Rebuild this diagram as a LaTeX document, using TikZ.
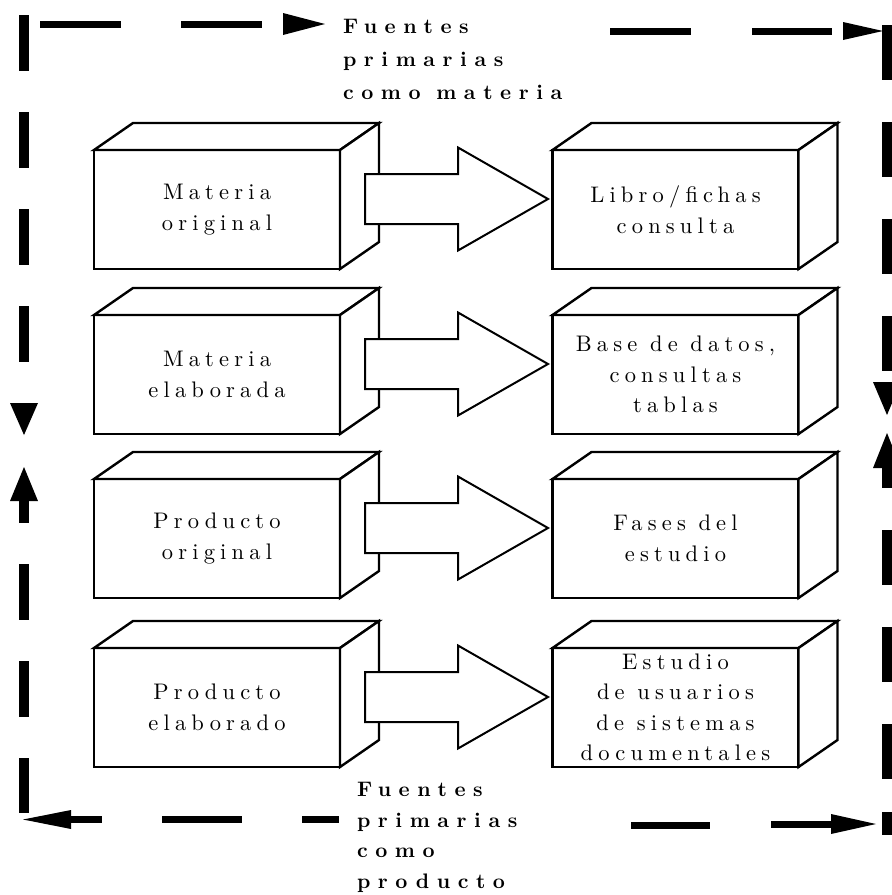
\documentclass[tikz,border=0pt]{standalone}
\usepackage{fontspec}
\newfontfamily\boxfont{lmroman10-regular.otf}[LetterSpace=23]
\newfontfamily\lblfont{lmroman10-bold.otf}[LetterSpace=36]
\usetikzlibrary{calc}
\newcommand\cubebox[3]{%
  \node[box] (#1) at (#2) {#3};
  \draw[face] (#1.north west) -- ++(39,-27) -- ($(#1.north east)+(39,-27)$) -- (#1.north east) -- cycle;
  \draw[face] (#1.north east) -- ($(#1.north east)+(39,-27)$) -- ($(#1.south east)+(39,-27)$) -- (#1.south east) -- cycle;
}
\begin{document}
\begin{tikzpicture}[x=1pt,y=-1pt,
  box/.style={draw, line width=2.4pt, fill=white, minimum width=246pt, minimum height=119pt,
    inner sep=0pt, outer sep=0pt, align=center, font=\boxfont\fontsize{22.5}{30.5}\selectfont},
  face/.style={draw, line width=2.4pt, line join=miter, fill=white},
  bigarr/.pic={\draw[line width=2pt, fill=white, line join=miter]
     (0,-25) -- (93,-25) -- (93,-51.5) -- (183,0) -- (93,51.5) -- (93,25) -- (0,25) -- cycle;},
  vbar/.style={line width=10pt},
  hbar/.style={line width=7pt},
  tri/.style={fill=black},
  lbl/.style={inner sep=0pt, outer sep=0pt, align=left, anchor=north west}]
\useasboundingbox (0,0) rectangle (892,895);

% boxes
\cubebox{m1}{217,209.5}{Materia\\original}
\cubebox{m2}{217,374.5}{Materia\\elaborada}
\cubebox{m3}{217,538.5}{Producto\\original}
\cubebox{m4}{217,707.5}{Producto\\elaborado}
\cubebox{r1}{675.5,209.5}{Libro/fichas\\consulta}
\cubebox{r2}{675.5,374.5}{Base de datos,\\consultas\\tablas}
\cubebox{r3}{675.5,538.5}{Fases del\\estudio}
\cubebox{r4}{675.5,707.5}{Estudio\\de usuarios\\de sistemas\\documentales}

% big arrows between boxes
\pic at ($(m1.east)+(25,-10.5)$) {bigarr};
\pic at ($(m2.east)+(25,-10.5)$) {bigarr};
\pic at ($(m3.east)+(25,-10.5)$) {bigarr};
\pic at ($(m4.east)+(25,-10.5)$) {bigarr};

% labels
\node[lbl, font=\lblfont\fontsize{21}{33}\selectfont] (tl) at (343,19.5) {Fuentes\\primarias\\como materia};
\node[lbl, font=\lblfont\fontsize{21}{30.5}\selectfont] (bl) at (357,782.5) {Fuentes\\primarias\\como\\producto};

% dashed frame: left side
\draw[vbar, dash pattern=on 56pt off 41pt] (24,15) -- (24,362);
\fill[tri] (10,403) -- (38,403) -- (24,435) -- cycle;
\fill[tri] (24,467) -- (38,501) -- (10,501) -- cycle;
\draw[vbar] (24,500) -- (24,523);
\draw[vbar, dash pattern=on 56pt off 41pt] (24,564) -- (24,813);

% top side
\draw[hbar, dash pattern=on 81pt off 60pt] (40,24) -- (262,24);
\fill[tri] (283,13) -- (325,24) -- (283,35) -- cycle;
\draw[hbar, dash pattern=on 81pt off 61pt] (610,31) -- (832,31);
\fill[tri] (843,22) -- (883,31) -- (843,40) -- cycle;

% right side
\draw[vbar, dash pattern=on 55pt off 42pt] (887,25) -- (887,372);
\fill[tri] (873,382) -- (901,382) -- (887,415) -- cycle;
\fill[tri] (887,433) -- (901,468) -- (873,468) -- cycle;
\draw[vbar] (887,467) -- (887,488);
\draw[vbar, dash pattern=on 55pt off 42pt] (887,530) -- (887,779);
\draw[vbar] (887,812) -- (887,835);

% bottom side
\fill[tri] (23,819.5) -- (71,810) -- (71,829) -- cycle;
\draw[hbar] (70,819.5) -- (102,819.5);
\draw[hbar] (162,819.5) -- (242,819.5);
\draw[hbar] (302,819.5) -- (339,819.5);
\draw[hbar] (631,825.5) -- (710,825.5);
\draw[hbar] (771,824) -- (832,824);
\fill[tri] (831,814) -- (876,824) -- (831,834) -- cycle;
\end{tikzpicture}
\end{document}
